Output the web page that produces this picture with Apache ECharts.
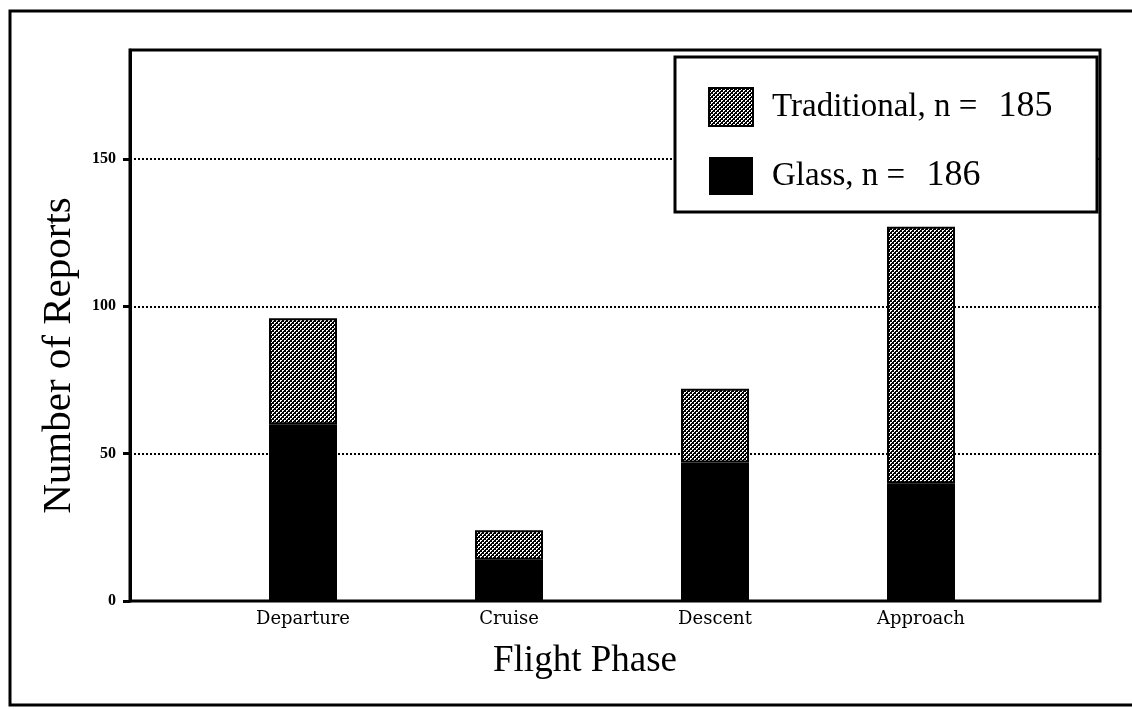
<!DOCTYPE html>
<html>
<head>
<meta charset="utf-8">
<script src="https://cdn.jsdelivr.net/npm/echarts@6/dist/echarts.min.js"></script>
<style>
  html, body { margin: 0; padding: 0; background: #fff; }
  #chart { width: 1132px; height: 709px; }
</style>
</head>
<body>
<div id="chart"></div>
<script>
const categories = ['Departure', 'Cruise', 'Descent', 'Approach'];
const glass = [60, 14, 47, 40];
const traditional = [36, 10, 25, 87];
const yTicks = [0, 50, 100, 150];
const seriesNames = ['Traditional', 'Glass'];
const seriesCounts = [185, 186];

// checkered fill for the "Traditional" segments
const tile = document.createElement('canvas');
tile.width = 4;
tile.height = 4;
const ctx = tile.getContext('2d');
ctx.fillStyle = '#000';
ctx.fillRect(0, 0, 4, 4);
ctx.fillStyle = '#fff';
ctx.fillRect(0, 0, 2, 1);
ctx.fillRect(0, 1, 1, 1);
ctx.fillRect(2, 2, 2, 1);
ctx.fillRect(2, 3, 1, 1);
const checker = {image: tile, repeat: 'repeat'};

const serif = 'Liberation Serif';
const myChart = echarts.init(document.getElementById('chart'));
const option = {
    backgroundColor: '#fff',
    animation: false,
    grid: [
        // frame, y axis and grid lines
        {left: 130, right: 32, top: 50, bottom: 108, show: true, borderColor: '#000', borderWidth: 3},
        // bars
        {left: 200, right: 108, top: 50, bottom: 108}
    ],
    xAxis: [
        {gridIndex: 0, type: 'value', min: 0, max: 1, show: false},
        {
            gridIndex: 1,
            type: 'category',
            data: categories,
            axisLine: {show: false},
            axisTick: {show: false},
            axisLabel: {color: '#000', fontFamily: 'DejaVu Serif', fontSize: 18, margin: 9},
            name: 'Flight Phase',
            nameLocation: 'middle',
            nameGap: 42,
            nameTextStyle: {color: '#000', fontFamily: serif, fontSize: 37, padding: [0, 54, 0, 0]}
        }
    ],
    yAxis: [
        {
            gridIndex: 0,
            type: 'value',
            min: 0,
            max: 187,
            interval: 50,
            axisLine: {show: true, lineStyle: {color: '#000', width: 3}},
            axisTick: {show: true, length: 7, lineStyle: {color: '#000', width: 3}, customValues: yTicks},
            axisLabel: {
                color: '#000', fontFamily: serif, fontSize: 16, fontWeight: 'bold', margin: 14,
                customValues: yTicks
            },
            splitLine: {show: true, lineStyle: {color: '#000', width: 2, type: [2, 2]}},
            name: 'Number of Reports',
            nameLocation: 'middle',
            nameGap: 50,
            nameTextStyle: {color: '#000', fontFamily: serif, fontSize: 41, padding: [0, 60, 0, 0]}
        },
        {gridIndex: 1, type: 'value', min: 0, max: 187, show: false}
    ],
    legend: {
        data: seriesNames,
        orient: 'vertical',
        left: 703,
        top: 82,
        itemWidth: 44,
        itemHeight: 38,
        itemGap: 30,
        icon: 'rect',
        z: 20,
        formatter(name) {
            const n = seriesCounts[seriesNames.indexOf(name)];
            return '{a|' + name + ', n = }{b|' + n + '}';
        },
        textStyle: {
            color: '#000',
            padding: [0, 0, 0, 14],
            rich: {
                a: {fontFamily: serif, fontSize: 33, color: '#000'},
                b: {fontFamily: serif, fontSize: 36, color: '#000', padding: [0, 0, 0, 13]}
            }
        }
    },
    graphic: [
        {type: 'rect', z: 10, shape: {x: 10, y: 11, width: 1130, height: 694},
            style: {fill: 'none', stroke: '#000', lineWidth: 3}},
        {type: 'rect', z: 10, shape: {x: 675, y: 57, width: 422, height: 155},
            style: {fill: '#fff', stroke: '#000', lineWidth: 3}}
    ],
    series: [
        {
            name: 'Glass',
            type: 'bar',
            stack: 'total',
            xAxisIndex: 1,
            yAxisIndex: 1,
            barWidth: 68,
            data: glass,
            itemStyle: {color: '#000'}
        },
        {
            name: 'Traditional',
            type: 'bar',
            stack: 'total',
            xAxisIndex: 1,
            yAxisIndex: 1,
            barWidth: 68,
            data: traditional,
            itemStyle: {color: checker, borderColor: '#000', borderWidth: 2}
        }
    ]
};
myChart.setOption(option);
</script>
</body>
</html>
